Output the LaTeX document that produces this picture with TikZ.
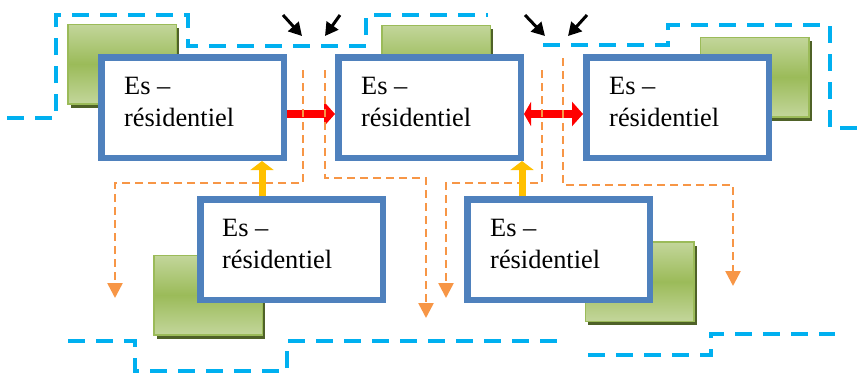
\documentclass[tikz,border=0pt]{standalone}
\usepackage{fontspec}
\setmainfont{Liberation Serif}
\usetikzlibrary{arrows.meta,shadows}
\definecolor{boxblue}{HTML}{4F81BD}
\definecolor{dashblue}{HTML}{00B0F0}
\definecolor{gLight}{HTML}{C3D69B}
\definecolor{gMid}{HTML}{9BBB59}
\definecolor{gShadow}{HTML}{4F6228}
\definecolor{oline}{HTML}{F79646}
\definecolor{yarrow}{HTML}{FFC000}
\definecolor{rarrow}{HTML}{FF0000}
\begin{document}
\begin{tikzpicture}[x=1pt,y=-1pt,
  bluebox/.style={draw=boxblue, line width=6.5pt, fill=white,
    minimum width=182.5pt, minimum height=100.5pt, inner sep=0pt},
  greenbox/.style={draw=gMid, line width=1.5pt,
    top color=gLight, bottom color=gLight, middle color=gMid,
    minimum width=108.5pt, minimum height=79.5pt, inner sep=0pt,
    drop shadow={shadow xshift=3pt, shadow yshift=-4pt, fill=gShadow, opacity=1}},
  boxtext/.style={inner sep=0pt, anchor=base west,
    font=\fontsize{26.4}{32}\selectfont},
  bounddash/.style={draw=dashblue, line width=4pt, dash pattern=on 17pt off 11pt},
  flowdash/.style={draw=oline, line width=2.5pt, dash pattern=on 8pt off 5pt,
    -{Triangle[length=15pt,width=15pt]}},
  redarrow/.style={draw=rarrow, line width=8pt, -{Triangle[length=11pt,width=24pt]}},
  redboth/.style={draw=rarrow, line width=8pt,
    {Triangle[length=7pt,width=24pt]}-{Triangle[length=11pt,width=24pt]}},
  yelarrow/.style={draw=yarrow, line width=7pt, -{Triangle[length=9pt,width=23pt]}},
  blkarrow/.style={draw=black, line width=3pt, -{Triangle[length=13pt,width=14pt]}}
]
\useasboundingbox (0,0) rectangle (866,376);

% blue dashed boundaries
\draw[bounddash] (7,118) -- (56,118) -- (56,15) -- (188,15) -- (188,46)
  -- (366,46) -- (366,15) -- (488,15);
\draw[bounddash] (543,45) -- (668,45) -- (668,25) -- (830,25) -- (830,128) -- (866,128);
\draw[bounddash] (68,341) -- (135,341) -- (135,371) -- (287,371) -- (287,341) -- (565,341);
\draw[bounddash] (588,355) -- (711,355) -- (711,334) -- (835,334);

% green boxes
\node[greenbox] (g1) at (122,64) {};
\node[greenbox] (g2) at (436,65) {};
\node[greenbox] (g3) at (754.5,77) {};
\node[greenbox] (g4) at (208,295) {};
\node[greenbox] (g5) at (639.5,281.5) {};

% blue boxes
\node[bluebox] (b1) at (192.5,107.5) {};
\node[bluebox] (b2) at (429.5,107.5) {};
\node[bluebox] (b3) at (677.5,107.5) {};
\node[bluebox] (b4) at (291.5,249.5) {};
\node[bluebox] (b5) at (558.5,249.5) {};

\node[boxtext] (t1) at ([xshift=26pt,yshift=-40pt]b1.north west)
  {\begin{tabular}[t]{@{}l@{}}Es –\\résidentiel\end{tabular}};
\node[boxtext] (t2) at ([xshift=26pt,yshift=-40pt]b2.north west)
  {\begin{tabular}[t]{@{}l@{}}Es –\\résidentiel\end{tabular}};
\node[boxtext] (t3) at ([xshift=26pt,yshift=-40pt]b3.north west)
  {\begin{tabular}[t]{@{}l@{}}Es –\\résidentiel\end{tabular}};
\node[boxtext] (t4) at ([xshift=25pt,yshift=-40pt]b4.north west)
  {\begin{tabular}[t]{@{}l@{}}Es –\\résidentiel\end{tabular}};
\node[boxtext] (t5) at ([xshift=26pt,yshift=-40pt]b5.north west)
  {\begin{tabular}[t]{@{}l@{}}Es –\\résidentiel\end{tabular}};

% red arrows
\draw[redarrow] ([yshift=-6.5pt]b1.east) -- ([yshift=-6.5pt]b2.west);
\draw[redboth] ([yshift=-6.5pt]b2.east) -- ([yshift=-6.5pt]b3.west);

% orange dashed flows
\coordinate (oa0) at (303,70);  \coordinate (oa1) at (115,298);
\coordinate (ob0) at (325,70);  \coordinate (ob1) at (426,318);
\coordinate (oc0) at (542,70);  \coordinate (oc1) at (446,298);
\coordinate (od0) at (563,58);  \coordinate (od1) at (733,286);
\draw[flowdash] (oa0) -- (oa0 |- 0,183) -- (oa1 |- 0,183) -- (oa1);
\draw[flowdash] (ob0) -- (ob0 |- 0,178) -- (ob1 |- 0,178) -- (ob1);
\draw[flowdash] (oc0) -- (oc0 |- 0,183) -- (oc1 |- 0,183) -- (oc1);
\draw[flowdash] (od0) -- (od0 |- 0,185) -- (od1 |- 0,185) -- (od1);

% yellow arrows
\draw[yelarrow] ([xshift=-29.5pt]b4.north) -- ([xshift=-29.5pt]b4.north |- b1.south);
\draw[yelarrow] ([xshift=-36.5pt]b5.north) -- ([xshift=-36.5pt]b5.north |- b2.south);

% black arrows
\coordinate (k1a) at (283,15); \coordinate (k1b) at (302,36);
\coordinate (k2a) at (340,15); \coordinate (k2b) at (325,36);
\coordinate (k3a) at (525,15); \coordinate (k3b) at (545,36);
\coordinate (k4a) at (587,15); \coordinate (k4b) at (568,36);
\draw[blkarrow] (k1a) -- (k1b);
\draw[blkarrow] (k2a) -- (k2b);
\draw[blkarrow] (k3a) -- (k3b);
\draw[blkarrow] (k4a) -- (k4b);
\end{tikzpicture}
\end{document}
